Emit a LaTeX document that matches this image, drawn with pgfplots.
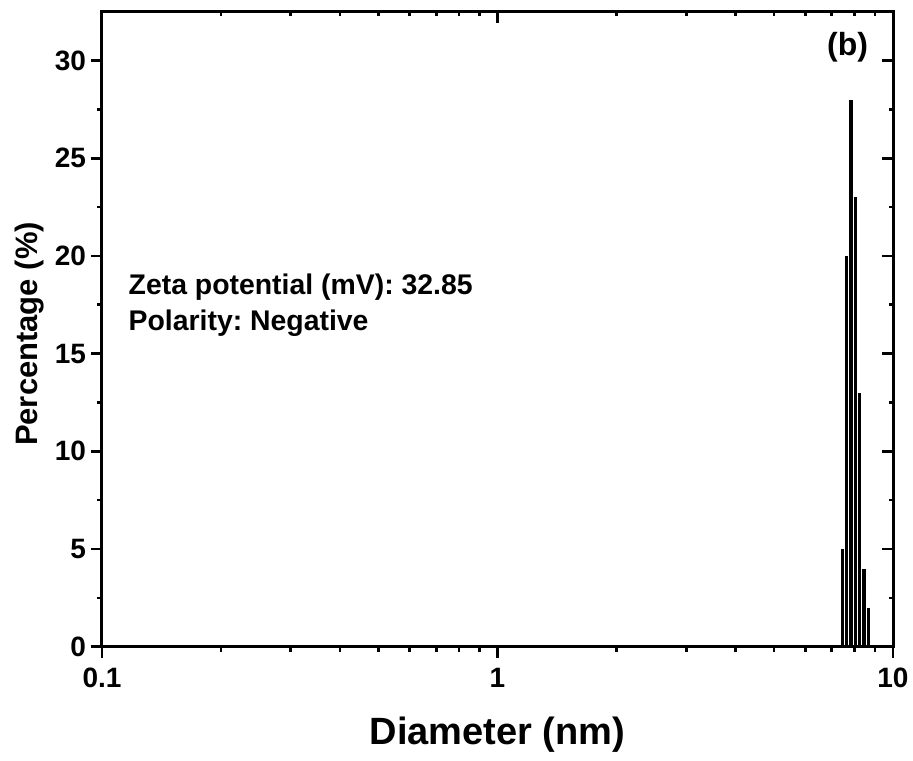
\documentclass[border=0pt]{standalone}
\usepackage{fontspec}
\setmainfont{Liberation Sans}
\usepackage{pgfplots}
\pgfplotsset{compat=1.18}
\usepackage{pgfplotstable}
\frenchspacing

% Size distribution: diameter (nm) vs. percentage (%)
\pgfplotstableread{
d     p
7.44  5
7.64  20
7.83  28
8.03  23
8.24  13
8.45  4
8.66  2
}\sizedist

\begin{document}
\begin{tikzpicture}
\begin{axis}[
  name=main,
  scale only axis,
  width=395.5pt, height=317.5pt,
  xmode=log, xmin=0.1, xmax=10,
  ymin=0, ymax=32.5,
  xtick={0.1,1,10},
  ytick={0,5,10,15,20,25,30},
  minor y tick num=1,
  axis line style={line width=1.5pt},
  every tick/.style={line width=1.3pt, black},
  every minor tick/.style={line width=1.3pt, black},
  xtick pos=bottom, ytick pos=left,
  tick align=outside,
  major tick length=5.5pt, minor tick length=2.5pt,
  xticklabels={0.1,1,10},
  yticklabels={0,5,10,15,20,25,30},
  tick label style={font=\bfseries\fontsize{14}{16}\selectfont},
  xticklabel style={yshift=-1.5pt},
  yticklabel style={xshift=1pt},
  xlabel={Diameter (nm)},
  ylabel={Percentage (\%)},
  xlabel style={font=\bfseries\fontsize{19}{22}\selectfont,
    at={(axis description cs:0.5,-0.1548)}, anchor=base},
  ylabel style={font=\bfseries\fontsize{15.5}{18}\selectfont,
    at={(axis description cs:-0.0818,0.4925)}, anchor=base},
]
  \addplot[ycomb, line width=1.6pt, black, mark=none] table[x=d, y=p] {\sizedist};
  \node[anchor=base west, inner sep=0pt, font=\bfseries\fontsize{14.2}{16}\selectfont]
    at (axis description cs:0.0332,0.5539) {Zeta potential (mV): 32.85};
  \node[anchor=base west, inner sep=0pt, font=\bfseries\fontsize{14.2}{16}\selectfont]
    at (axis description cs:0.0332,0.4987) {Polarity: Negative};
  \node[anchor=base, inner sep=0pt, font=\bfseries\fontsize{16}{18}\selectfont]
    at (axis description cs:0.9425,0.9318) {(b)};
\end{axis}
% mirrored ticks on the top and right edges, pointing inward
\begin{axis}[
  scale only axis,
  width=395.5pt, height=317.5pt,
  xmode=log, xmin=0.1, xmax=10,
  ymin=0, ymax=32.5,
  xtick={0.1,1,10},
  ytick={0,5,10,15,20,25,30},
  minor y tick num=1,
  axis line style={line width=1.5pt},
  every tick/.style={line width=1.3pt, black},
  every minor tick/.style={line width=1.3pt, black},
  xtick pos=top, ytick pos=right,
  tick align=inside,
  major tick length=5.5pt, minor tick length=2.2pt,
  xticklabels={}, yticklabels={},
]
\end{axis}
\pgfresetboundingbox
\path[use as bounding box]
  ([xshift=-51pt,yshift=-57.15pt]main.south west)
  rectangle ([xshift=10pt,yshift=5.85pt]main.north east);
\end{tikzpicture}
\end{document}
